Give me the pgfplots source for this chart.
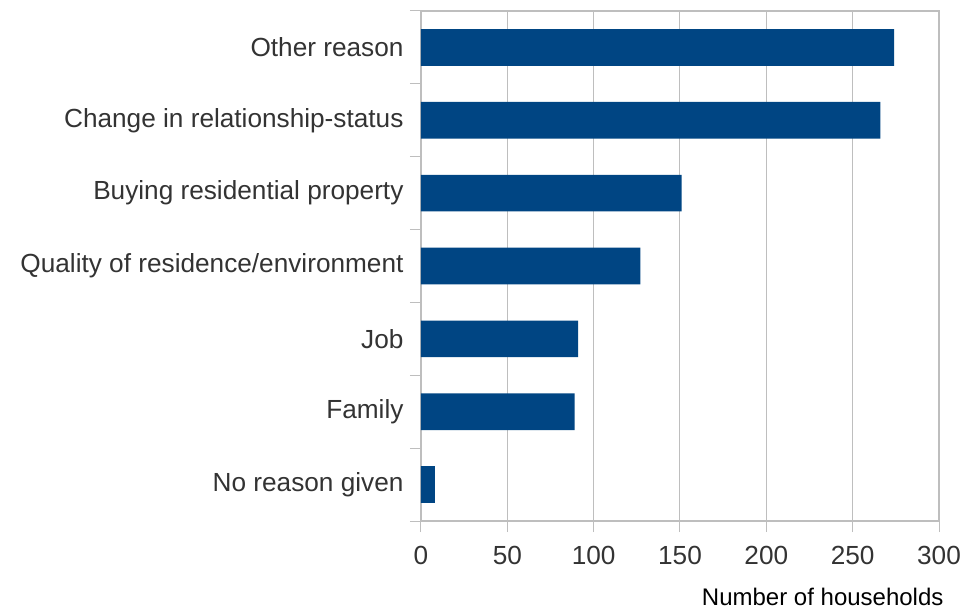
\documentclass[border=0pt]{standalone}
\usepackage{fontspec}
\setmainfont{Liberation Sans}
\usepackage{pgfplots}
\pgfplotsset{compat=1.18}
\definecolor{barblue}{RGB}{0,69,131}
\definecolor{gridgray}{RGB}{190,190,190}
\definecolor{txt}{RGB}{51,51,51}
\begin{document}
\begin{tikzpicture}
\path[use as bounding box] (-421pt,-89pt) rectangle (558pt,521pt);
\begin{axis}[
  at={(0,0)}, anchor=south west,
  scale only axis, width=518pt, height=510pt,
  xbar, bar width=36.7pt,
  xmin=0, xmax=300, ymin=-0.5, ymax=6.5,
  xtick={0,50,...,300},
  ytick={-0.5,0.5,...,6.5},
  yticklabels={},
  xtick pos=bottom, ytick pos=left,
  extra y ticks={0,1,2,3,4,5,6},
  extra y tick labels={No reason given, Family, Job, Quality of residence/environment, Buying residential property, Change in relationship-status, Other reason},
  extra y tick style={major tick length=0pt, yticklabel style={xshift=-14pt}},
  xticklabel style={yshift=-11pt},
  tick align=outside,
  major tick length=11pt,
  tick style={draw=gridgray, line width=1pt},
  axis line style={draw=gridgray, line width=1.2pt},
  xmajorgrids,
  grid style={draw=gridgray, line width=1pt},
  /pgf/number format/assume math mode=true,
  ticklabel style={font=\fontsize{26.2}{30}\selectfont, text=txt},
  clip=false,
]
\addplot[fill=barblue, draw=none] coordinates {
  (8,0) (89,1) (91,2) (127,3) (151,4) (266,5) (274,6)
};
\node[anchor=base east, font=\fontsize{24}{28}\selectfont, text=black] at ([yshift=-84pt,xshift=8pt]rel axis cs:1,0) {Number of households};
\end{axis}
\end{tikzpicture}
\end{document}
